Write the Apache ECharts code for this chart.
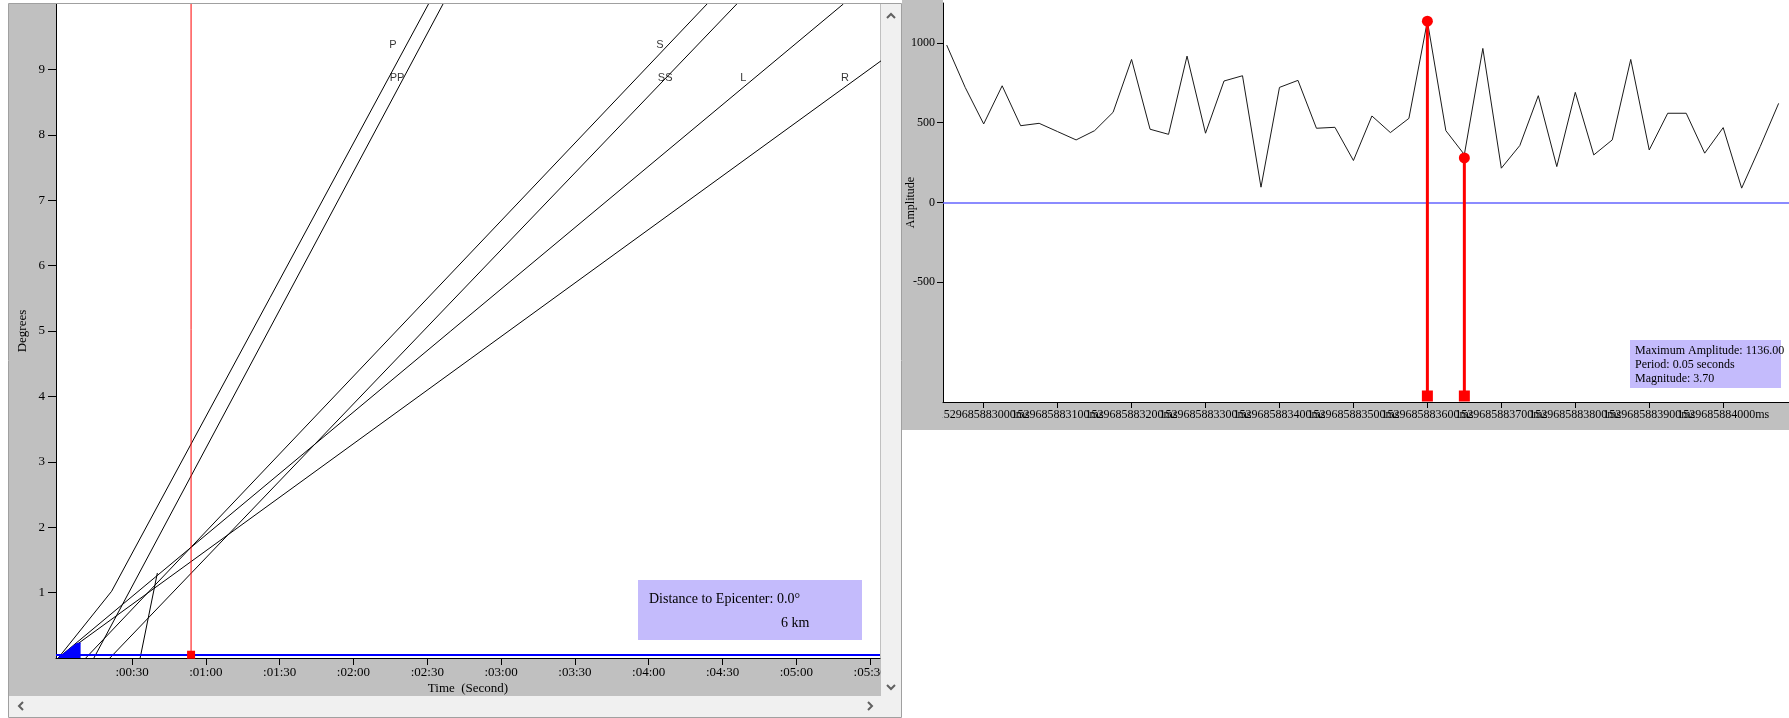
<!DOCTYPE html>
<html>
<head>
<meta charset="utf-8">
<script src="https://cdn.jsdelivr.net/npm/echarts@6/dist/echarts.min.js"></script>
<style>
html, body { margin: 0; padding: 0; background: #fff; }
#main { width: 1789px; height: 718px; }
</style>
</head>
<body>
<div id="main"></div>
<script>
// travel time curves, [seconds, degrees]
var phaseP = [[0, 0], [21.7, 1.02], [150.5, 10]];
var phasePP = [[14.5, 0], [156.4, 10]];
var phaseS = [[11.2, 0], [263.7, 10]];
var phaseSS = [[21, 0], [275.8, 10]];
var phaseL = [[0, 0], [319.1, 10]];
var phaseR = [[0, 0], [345, 9.42]];
var phaseSteep = [[33.3, 0], [40.3, 1.3]];
var nearField = [[0, 0], [3, 0.09], [6, 0.18], [7.5, 0.22], [9.1, 0.23]];
var phaseNames = ['P', 'PP', 'S', 'SS', 'L', 'R'];
var phaseLabelAt = [[136, 9.37], [137.7, 8.87], [244.6, 9.37], [246.7, 8.87], [278.4, 8.87], [319.8, 8.87]];
var markerTime = 54;
var timeTicks = [30, 60, 90, 120, 150, 180, 210, 240, 270, 300, 330];

// amplitude trace, time in ms relative to timeBase
var timeBase = 1529685883000;
var traceStart = -50;
var sampleStep = 25;
var amplitudes = [986, 721, 492, 731, 481, 496, 444, 392, 450, 565, 896, 459, 427, 917, 434, 761,
    794, 96, 721, 765, 465, 471, 263, 542, 438, 527, 1136, 450, 300, 965, 215, 357, 669, 225,
    690, 298, 392, 896, 329, 559, 559, 309, 469, 90, 350, 621];
var msTicksEven = [0, 200, 400, 600, 800, 1000];
var msTicksOdd = [100, 300, 500, 700, 900];
var ampTicks = [-500, 0, 500, 1000];
var stemTimes = [600, 650];
var stemTops = [1136, 279];
var stemBottom = -1212;

var serif = 'Liberation Serif';

function pad(n) { return (n < 10 ? '0' : '') + n; }
function fmtTime(v) {
    return ':' + pad(Math.floor(v / 60)) + ':' + pad(Math.round(v % 60));
}

function phaseLine(data) {
    return {
        type: 'line', xAxisIndex: 0, yAxisIndex: 0, data: data,
        symbol: 'none', silent: true, z: 3,
        lineStyle: { color: '#000', width: 1 }
    };
}

// one of two bottom axes on the trace grid (labels overlap, so they are split)
function msAxis(ticks, showLine) {
    return {
        type: 'value', gridIndex: 1, min: -55, max: 1089, position: 'bottom',
        axisLine: { show: showLine, onZero: false, lineStyle: { color: '#000', width: 1 } },
        axisTick: { customValues: ticks, length: 6, lineStyle: { color: '#000' } },
        axisLabel: {
            customValues: ticks, hideOverlap: false,
            formatter: function (v) { return (timeBase + v) + 'ms'; },
            margin: 7, color: '#000', fontFamily: serif, fontSize: 12
        },
        splitLine: { show: false }
    };
}

var traceData = amplitudes.map(function (a, i) { return [traceStart + i * sampleStep, a]; });

var series = [
    phaseLine(phaseP), phaseLine(phasePP), phaseLine(phaseS), phaseLine(phaseSS),
    phaseLine(phaseL), phaseLine(phaseR), phaseLine(phaseSteep),
    {
        type: 'line', xAxisIndex: 0, yAxisIndex: 0, data: nearField, symbol: 'none', z: 4,
        lineStyle: { color: '#0000ff', width: 1 },
        areaStyle: { color: '#0000ff', opacity: 1 },
        markLine: {
            silent: true, symbol: 'none', label: { show: false },
            lineStyle: { color: '#0000ff', width: 2, type: 'solid' },
            data: [{ yAxis: 0.05 }]
        }
    },
    {
        type: 'scatter', xAxisIndex: 0, yAxisIndex: 0, symbolSize: 0, z: 5,
        data: phaseLabelAt.map(function (p, i) { return { name: phaseNames[i], value: p }; }),
        label: { show: true, formatter: '{b}', position: 'inside', color: '#000', fontFamily: 'Liberation Sans', fontSize: 11 }
    },
    {
        type: 'line', xAxisIndex: 0, yAxisIndex: 0, z: 6,
        data: [{ value: [markerTime, 10], symbol: 'none' }, { value: [markerTime, 0.05] }],
        symbol: 'rect', symbolSize: 8, showSymbol: true,
        lineStyle: { color: '#ff0000', width: 1 }, itemStyle: { color: '#ff0000' }
    },
    {
        type: 'line', xAxisIndex: 1, yAxisIndex: 1, data: traceData, symbol: 'none', z: 3,
        lineStyle: { color: '#1a1a1a', width: 1 },
        markLine: {
            silent: true, symbol: 'none', label: { show: false },
            lineStyle: { color: '#6464ff', width: 1.5, type: 'solid' },
            data: [{ yAxis: 0 }]
        }
    }
];
stemTimes.forEach(function (t, i) {
    series.push({
        type: 'line', xAxisIndex: 1, yAxisIndex: 1, z: 6, showSymbol: true,
        data: [{ value: [t, stemTops[i]], symbol: 'circle' }, { value: [t, stemBottom], symbol: 'rect' }],
        symbolSize: 11,
        lineStyle: { color: '#ff0000', width: 3 }, itemStyle: { color: '#ff0000' }
    });
});

var chart = echarts.init(document.getElementById('main'));
chart.setOption({
    animation: false,
    backgroundColor: '#fff',
    grid: [
        { left: 56, top: 4, width: 824, height: 654, outerBoundsMode: 'none' },
        { left: 943, top: 3, width: 846, height: 399, outerBoundsMode: 'none' }
    ],
    xAxis: [{
        type: 'value', gridIndex: 0, min: -0.9, max: 334,
        name: 'Time  (Second)', nameLocation: 'middle', nameGap: 24, nameMoveOverlap: false,
        nameTextStyle: { color: '#000', fontFamily: serif, fontSize: 13 },
        axisLine: { onZero: false, lineStyle: { color: '#000', width: 1 } },
        axisTick: { customValues: timeTicks, length: 7, lineStyle: { color: '#000' } },
        axisLabel: { customValues: timeTicks, formatter: fmtTime, margin: 8, color: '#000', fontFamily: serif, fontSize: 13 },
        splitLine: { show: false }
    }, msAxis(msTicksEven, true), msAxis(msTicksOdd, false)],
    yAxis: [{
        type: 'value', gridIndex: 0, min: 0, max: 10, interval: 1,
        name: 'Degrees', nameLocation: 'middle', nameGap: 27, nameMoveOverlap: false,
        nameTextStyle: { color: '#000', fontFamily: serif, fontSize: 13 },
        axisLine: { show: true, onZero: false, lineStyle: { color: '#000', width: 1 } },
        axisTick: { show: true, length: 8, lineStyle: { color: '#000' } },
        axisLabel: { showMinLabel: false, showMaxLabel: false, margin: 11, color: '#000', fontFamily: serif, fontSize: 13 },
        splitLine: { show: false }
    }, {
        type: 'value', gridIndex: 1, min: -1249.6, max: 1249.6,
        name: 'Amplitude', nameLocation: 'middle', nameGap: 26, nameMoveOverlap: false,
        nameTextStyle: { color: '#000', fontFamily: serif, fontSize: 12 },
        axisLine: { show: true, onZero: false, lineStyle: { color: '#000', width: 1 } },
        axisTick: { show: true, customValues: ampTicks, length: 6, lineStyle: { color: '#000' } },
        axisLabel: {
            customValues: ampTicks, formatter: function (v) { return String(v); },
            margin: 8, color: '#000', fontFamily: serif, fontSize: 12
        },
        splitLine: { show: false }
    }],
    graphic: [
        // window backgrounds
        { type: 'rect', z: -10, shape: { x: 9, y: 3, width: 892, height: 714 }, style: { fill: '#c0c0c0' } },
        { type: 'rect', z: -9, shape: { x: 56, y: 4, width: 824, height: 654 }, style: { fill: '#fff' } },
        { type: 'rect', z: -10, shape: { x: 902, y: 0, width: 887, height: 430 }, style: { fill: '#c0c0c0' } },
        { type: 'rect', z: -9, shape: { x: 943, y: 0, width: 846, height: 402 }, style: { fill: '#fff' } },
        // the trace panel clips its first tick label at the plot edge
        { type: 'rect', z: 100, shape: { x: 902, y: 403, width: 40.5, height: 27 }, style: { fill: '#c0c0c0' } },
        // scrollbars
        { type: 'rect', z: 100, shape: { x: 881, y: 4, width: 20, height: 692 }, style: { fill: '#f0f0f0' } },
        { type: 'rect', z: 100, shape: { x: 9, y: 696, width: 892, height: 21 }, style: { fill: '#f0f0f0' } },
        { type: 'polyline', z: 101, shape: { points: [[887, 18], [891, 14], [895, 18]] }, style: { stroke: '#606060', lineWidth: 2, fill: null } },
        { type: 'polyline', z: 101, shape: { points: [[887, 685], [891, 689], [895, 685]] }, style: { stroke: '#606060', lineWidth: 2, fill: null } },
        { type: 'polyline', z: 101, shape: { points: [[23, 702], [19, 706], [23, 710]] }, style: { stroke: '#606060', lineWidth: 2, fill: null } },
        { type: 'polyline', z: 101, shape: { points: [[868, 702], [872, 706], [868, 710]] }, style: { stroke: '#606060', lineWidth: 2, fill: null } },
        { type: 'rect', z: 102, shape: { x: 8.5, y: 3.5, width: 893, height: 714 }, style: { fill: null, stroke: '#a0a0a0', lineWidth: 1 } },
        // info boxes
        { type: 'rect', z: 50, shape: { x: 638, y: 580, width: 224, height: 60 }, style: { fill: '#c4bbfc' } },
        { type: 'text', z: 51, style: { text: 'Distance to Epicenter: 0.0°', x: 649, y: 599, fill: '#000', font: '14px "Liberation Serif"', textVerticalAlign: 'middle' } },
        { type: 'text', z: 51, style: { text: '6 km', x: 781, y: 623, fill: '#000', font: '14px "Liberation Serif"', textVerticalAlign: 'middle' } },
        { type: 'rect', z: 50, shape: { x: 1630, y: 340, width: 151, height: 48 }, style: { fill: '#c4bbfc' } },
        { type: 'text', z: 51, style: { text: 'Maximum Amplitude: 1136.00', x: 1635, y: 351, fill: '#000', font: '12px "Liberation Serif"', textVerticalAlign: 'middle' } },
        { type: 'text', z: 51, style: { text: 'Period: 0.05 seconds', x: 1635, y: 365, fill: '#000', font: '12px "Liberation Serif"', textVerticalAlign: 'middle' } },
        { type: 'text', z: 51, style: { text: 'Magnitude: 3.70', x: 1635, y: 379, fill: '#000', font: '12px "Liberation Serif"', textVerticalAlign: 'middle' } }
    ],
    series: series
});
</script>
</body>
</html>
